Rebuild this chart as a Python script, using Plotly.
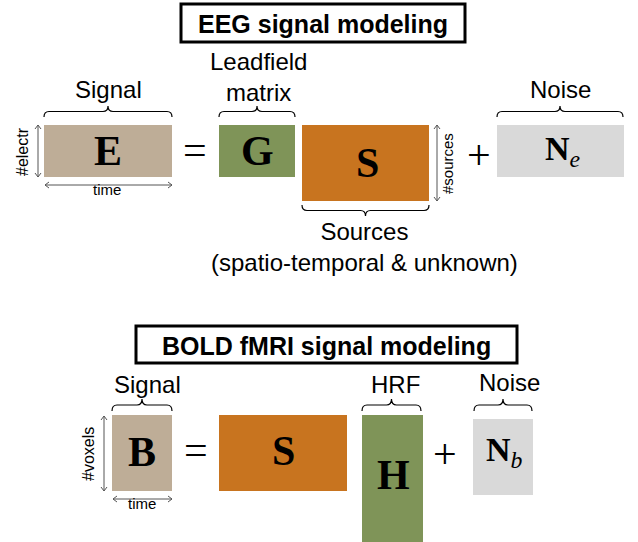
import plotly.graph_objects as go

# --- diagram content -------------------------------------------------------
titles = ["EEG signal modeling", "BOLD fMRI signal modeling"]

# EEG row: E = G S + N_e
eeg_symbols = ["<b>E</b>", "<b>G</b>", "<b>S</b>", "<b>N</b><sub><i>e</i></sub>"]
eeg_colors = ["#BEAD97", "#7F9458", "#C8741F", "#D9D9D9"]
eeg_labels = ["Signal", "Leadfield<br>matrix", "Sources<br>(spatio-temporal & unknown)", "Noise"]
eeg_dims = ["#electr", "time", "#sources"]

# BOLD row: B = S H + N_b
bold_symbols = ["<b>B</b>", "<b>S</b>", "<b>H</b>", "<b>N</b><sub><i>b</i></sub>"]
bold_colors = ["#BEAD97", "#C8741F", "#7F9458", "#D9D9D9"]
bold_labels = ["Signal", "HRF", "Noise"]
bold_dims = ["#voxels", "time"]

operators = ["=", "+"]

# geometry (pixel frame, y downwards): x0, x1, y0, y1
eeg_boxes = [(44, 172, 125, 177), (219, 295, 125, 177), (302, 429, 125, 201), (497, 624, 125, 177)]
bold_boxes = [(112, 172, 415, 491), (219, 347, 415, 491), (362, 423, 415, 545), (473, 533, 419, 495)]
title_boxes = [(181, 465, 4, 42), (136, 517, 326, 363)]

W, H = 638, 542
SANS = "Liberation Sans, Arial, sans-serif"
SERIF = "Liberation Serif, Times New Roman, serif"

fig = go.Figure()
shapes = []
annotations = []


def text(x, y, s, size=24, family=SANS, color="black", angle=0):
    annotations.append(dict(x=x, y=y, text=s, showarrow=False, textangle=angle,
                            font=dict(size=size, family=family, color=color),
                            xanchor="center", yanchor="middle"))


def brace(x0, x1, y_end, y_tip, r=5):
    # curly brace; y_end is where the arms point, y_tip the middle spike
    ym = (y_end + y_tip) / 2
    xc = (x0 + x1) / 2
    d = (f"M{x0},{y_end} Q{x0},{ym} {x0 + r},{ym} L{xc - r},{ym} "
         f"Q{xc},{ym} {xc},{y_tip} Q{xc},{ym} {xc + r},{ym} "
         f"L{x1 - r},{ym} Q{x1},{ym} {x1},{y_end}")
    shapes.append(dict(type="path", path=d, line=dict(color="black", width=1.2)))


def darrow(x0, y0, x1, y1, h=4):
    # thin double-headed arrow with open chevron heads (horizontal or vertical)
    if y0 == y1:
        d = (f"M{x0},{y0} L{x1},{y1} "
             f"M{x0 + h},{y0 - h * 0.75} L{x0},{y0} L{x0 + h},{y0 + h * 0.75} "
             f"M{x1 - h},{y1 - h * 0.75} L{x1},{y1} L{x1 - h},{y1 + h * 0.75}")
    else:
        d = (f"M{x0},{y0} L{x1},{y1} "
             f"M{x0 - h * 0.75},{y0 + h} L{x0},{y0} L{x0 + h * 0.75},{y0 + h} "
             f"M{x1 - h * 0.75},{y1 - h} L{x1},{y1} L{x1 + h * 0.75},{y1 - h}")
    shapes.append(dict(type="path", path=d, line=dict(color="#555555", width=1)))


# title boxes
for (x0, x1, y0, y1), t in zip(title_boxes, titles):
    shapes.append(dict(type="rect", x0=x0, x1=x1, y0=y0, y1=y1,
                       line=dict(color="black", width=3), fillcolor="white"))
    text((x0 + x1) / 2, (y0 + y1) / 2 + 1, f"<b>{t}</b>", size=25)

# matrices
for boxes, cols in [(eeg_boxes, eeg_colors), (bold_boxes, bold_colors)]:
    for (x0, x1, y0, y1), c in zip(boxes, cols):
        shapes.append(dict(type="rect", x0=x0, x1=x1, y0=y0, y1=y1,
                           line=dict(width=0), fillcolor=c))

# EEG symbols
text(108, 151, eeg_symbols[0], 42, SERIF)
text(257, 151, eeg_symbols[1], 42, SERIF)
text(367, 163, eeg_symbols[2], 42, SERIF)
text(563, 151, eeg_symbols[3], 34, SERIF)
text(195, 150, operators[0], 42, SERIF)
text(479, 155, operators[1], 42, SERIF)

# EEG labels and braces
text(108, 89, eeg_labels[0])
text(258, 77, eeg_labels[1])
text(364, 247, eeg_labels[2])
text(560, 89, eeg_labels[3])
brace(44, 172, 117, 106)
brace(219, 295, 117, 106)
brace(497, 623, 117, 106)
brace(302, 429, 205, 216)

# EEG dimension arrows
darrow(38, 125, 38, 177)
darrow(45, 185, 172, 185)
darrow(437, 125, 437, 201)
text(22, 152, eeg_dims[0], 16, angle=-90)
text(107, 189, eeg_dims[1], 15)
text(447, 164, eeg_dims[2], 15, angle=-90)

# BOLD symbols
text(142, 452, bold_symbols[0], 42, SERIF)
text(283, 451, bold_symbols[1], 42, SERIF)
text(393, 475, bold_symbols[2], 42, SERIF)
text(504, 452, bold_symbols[3], 34, SERIF)
text(196, 450, operators[0], 42, SERIF)
text(445, 454, operators[1], 42, SERIF)

# BOLD labels and braces
text(147, 384, bold_labels[0])
text(395, 384, bold_labels[1])
text(509, 382, bold_labels[2])
brace(112, 172, 411, 399)
brace(362, 421, 411, 399)
brace(474, 532, 411, 399)

darrow(104, 416, 104, 491)
darrow(113, 499, 172, 499)
text(88, 454, bold_dims[0], 16, angle=-90)
text(142, 503, bold_dims[1], 15)

fig.update_layout(
    width=W, height=H,
    margin=dict(l=0, r=0, t=0, b=0),
    paper_bgcolor="white", plot_bgcolor="white",
    xaxis=dict(range=[0, W], visible=False, fixedrange=True),
    yaxis=dict(range=[H, 0], visible=False, fixedrange=True),
    shapes=shapes, annotations=annotations,
    showlegend=False,
)

# drop the default page margin so the diagram sits at the window corner
fig.write_html("out.html", config={"displayModeBar": False},
               post_script="document.body.style.margin='0px';")
